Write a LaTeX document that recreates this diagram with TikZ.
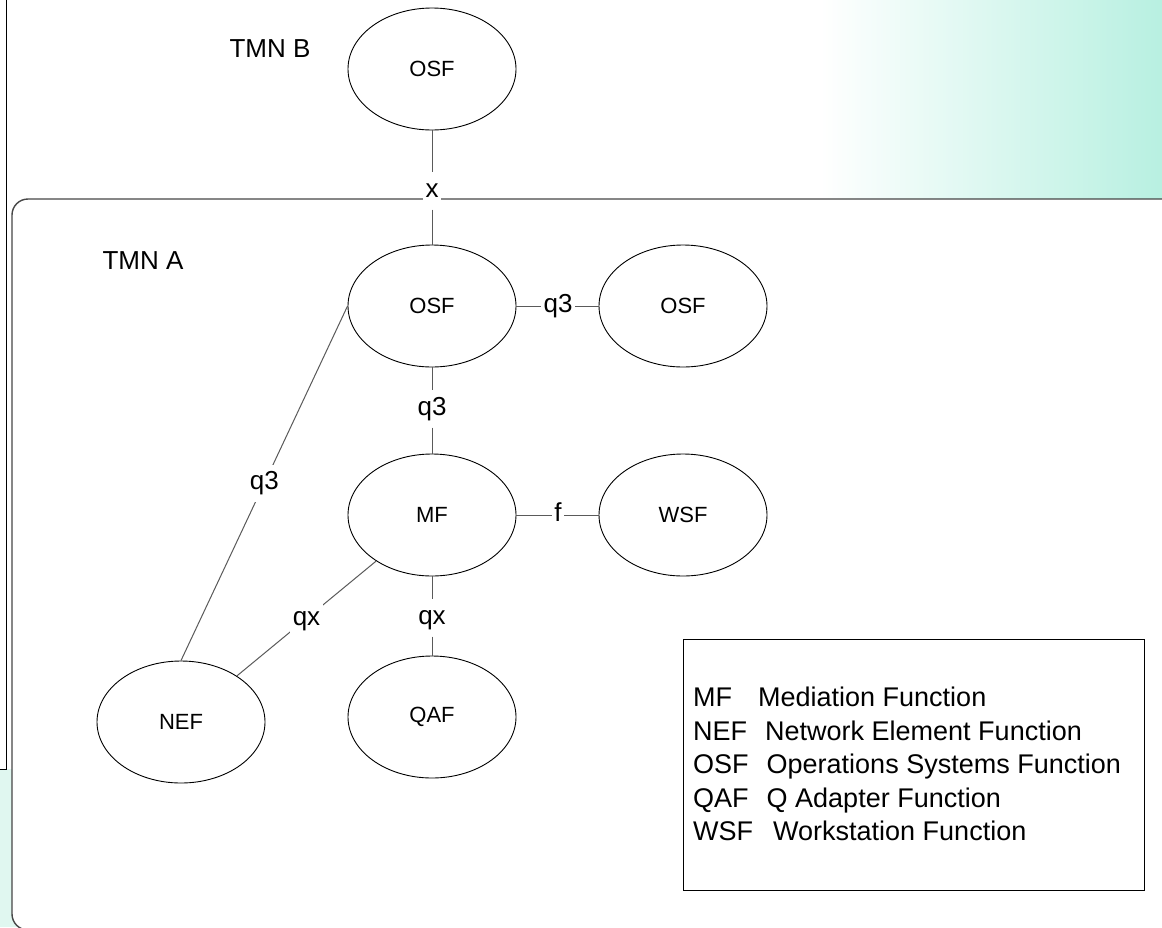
\documentclass[tikz,border=0pt]{standalone}
\usepackage{fontspec}
\setmainfont{Liberation Sans}
\usetikzlibrary{shapes.geometric}
\definecolor{mintdark}{RGB}{184,240,225}
\definecolor{mintlight}{RGB}{224,247,240}
\definecolor{framec}{RGB}{70,70,70}
\definecolor{wirec}{RGB}{90,90,90}
\begin{document}
\begin{tikzpicture}[x=1pt,y=-1pt,
  fn/.style={ellipse, draw=black, line width=0.9pt, minimum width=168pt,
    minimum height=122pt, inner sep=0pt, font=\fontsize{22}{26}\selectfont},
  lbl/.style={fill=white, inner xsep=2.5pt, inner ysep=6pt, text height=19pt,
    text depth=6pt, font=\fontsize{26}{31}\selectfont},
  wire/.style={draw=wirec, line width=1pt},
  title/.style={inner sep=0pt, font=\fontsize{26}{31}\selectfont},
  legline/.style={anchor=base west, inner sep=0pt, font=\fontsize{27}{32}\selectfont}]
\useasboundingbox (0,0) rectangle (1162,927);
\clip (0,0) rectangle (1162,927);

% slide background
\shade[left color=white, right color=mintdark] (820,0) rectangle (1162,200);
\fill[mintlight] (0,769) rectangle (30,927);
\fill[white] (0,0) rectangle (6,769);
\draw[line width=1pt] (0,769) -- (6,769) -- (6,0);

% TMN A domain
\draw[framec, line width=1.4pt, fill=white, rounded corners=16pt]
  (12,199) rectangle (1180,930);

% function blocks
\node[fn] (osfB) at (432,69)  {OSF};
\node[fn] (osfA) at (432,306) {OSF};
\node[fn] (osfR) at (683,306) {OSF};
\node[fn] (mf)   at (432,515) {MF};
\node[fn] (wsf)  at (683,515) {WSF};
\node[fn] (nef)  at (181,722) {NEF};
\node[fn] (qaf)  at (432,717) {QAF};

% reference point labels
\node[lbl] (lx)   at (432,191) {x};
\node[lbl] (lq3h) at (558,306) {q3};
\node[lbl] (lq3v) at (432,409) {q3};
\node[lbl] (lf)   at (558,515) {f};
\node[lbl] (lqxv) at (432,618) {qx};

% domain titles
\node[title] (tmnB) at (270,49)  {TMN B};
\node[title] (tmnA) at (143,261) {TMN A};

% reference points
\draw[wire] (osfB) -- (lx) -- (osfA);
\draw[wire] (osfA) -- (lq3h) -- (osfR);
\draw[wire] (osfA) -- (lq3v) -- (mf);
\draw[wire] (mf) -- (lf) -- (wsf);
\draw[wire] (mf) -- (lqxv) -- (qaf);
\draw[wire] (osfA.west) -- node[lbl] (lq3d) {q3} (nef.north);
\draw[wire] (mf) -- node[lbl] (lqxd) {qx} (nef);

% legend
\node[draw=black, line width=1pt, minimum width=461pt, minimum height=251pt,
  inner sep=0pt] (legend) at (913.5,764.5) {};
\node[legline] (k1) at (693,706) {MF\hspace{26pt}Mediation Function};
\node[legline] (k2) at (693,740) {NEF\hspace{18pt}Network Element Function};
\node[legline] (k3) at (693,773) {OSF\hspace{18pt}Operations Systems Function};
\node[legline] (k4) at (693,807) {QAF\hspace{18pt}Q Adapter Function};
\node[legline] (k5) at (693,840) {WSF\hspace{20pt}Workstation Function};
\end{tikzpicture}
\end{document}
